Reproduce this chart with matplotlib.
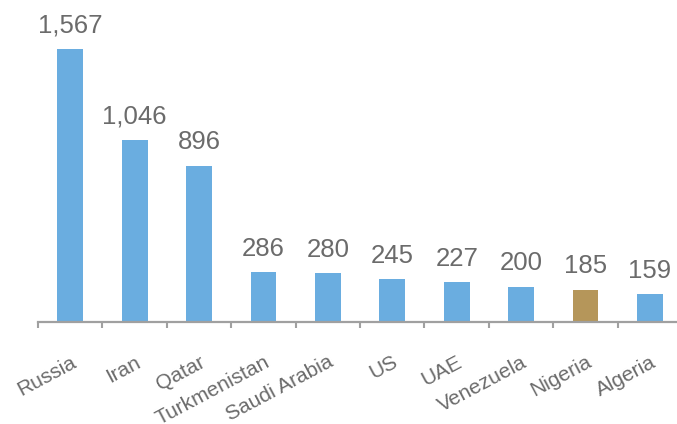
import matplotlib
matplotlib.use('Agg')
import matplotlib.pyplot as plt
import numpy as np

countries = ['Russia', 'Iran', 'Qatar', 'Turkmenistan', 'Saudi Arabia',
             'US', 'UAE', 'Venezuela', 'Nigeria', 'Algeria']
reserves = [1567, 1046, 896, 286, 280, 245, 227, 200, 185, 159]
highlight = 'Nigeria'

plt.rcParams['font.family'] = ['Liberation Sans', 'DejaVu Sans']

fig = plt.figure(figsize=(6.77, 4.24), dpi=100)
W, H = 677, 424
ax = fig.add_axes([38 / W, 1 - 322 / H, (677 - 38) / W, 322 / H])

x = np.arange(len(countries))
colors = ['#b5965a' if c == highlight else '#6aade0' for c in countries]
ax.bar(x, reserves, width=0.4, color=colors)

for xi, v in zip(x, reserves):
    ax.annotate(f'{v:,}', xy=(xi, v), xytext=(0, 12), textcoords='offset points',
                ha='center', va='baseline', fontsize=18.5, color='#6b6b6b')

ax.set_xlim(-0.5, 9.42)
ax.set_ylim(0, 1848)

for s in ['top', 'right', 'left']:
    ax.spines[s].set_visible(False)
ax.spines['bottom'].set_color('#a0a0a0')
ax.spines['bottom'].set_linewidth(1.6)
ax.set_yticks([])

ax.set_xticks(x)
ax.set_xticklabels(countries, rotation=28, ha='right', rotation_mode='anchor',
                   fontsize=15, color='#6b6b6b')
ax.tick_params(axis='x', which='major', length=0, pad=22)
ax.set_xticks(np.arange(-0.5, 9, 1), minor=True)
ax.tick_params(axis='x', which='minor', length=4.5, width=1.5, color='#a0a0a0')

fig.savefig('out.png', dpi=100)
